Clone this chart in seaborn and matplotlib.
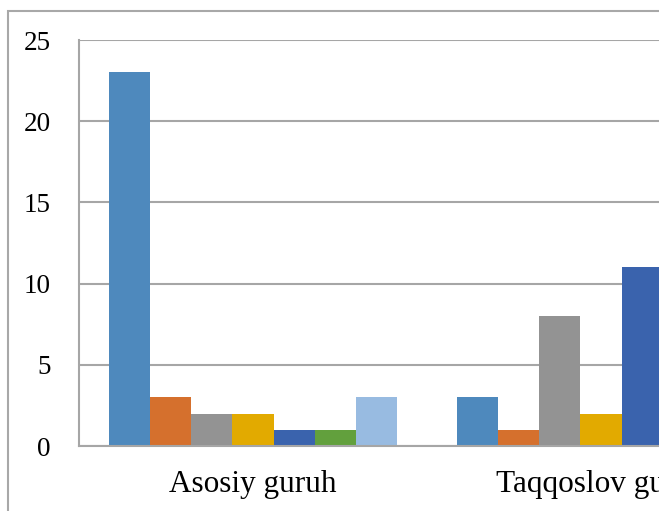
import matplotlib
matplotlib.use("Agg")
import matplotlib.pyplot as plt
from matplotlib.patches import Rectangle
from matplotlib.ticker import FixedLocator
import numpy as np
import pandas as pd
import seaborn as sns

# Groups and the seven response categories
groups = ["Asosiy guruh", "Taqqoslov guruh"]
series = ["1", "2", "3", "4", "5", "6", "7"]
asosiy = [23, 3, 2, 2, 1, 1, 3]
taqqoslov = [3, 1, 8, 2, 11, np.nan, np.nan]
yticks = [0, 5, 10, 15, 20, 25]

colors = ["#4E89BD", "#D5702D", "#939393", "#E2AA00",
          "#3A63AD", "#62A03D", "#98BBE1"]

df = pd.DataFrame({
    "group": [groups[0]] * len(series) + [groups[1]] * len(series),
    "series": series * 2,
    "value": asosiy + taqqoslov,
})

sns.set_theme(style="white")
plt.rcParams["font.family"] = ["Liberation Serif", "DejaVu Serif"]

W, H = 659, 511
fig = plt.figure(figsize=(W / 100, H / 100), dpi=100)
fig.patch.set_facecolor("white")

# chart area frame
fig.patches.append(Rectangle((8 / W, -0.1), 1.2, (H - 11) / H + 0.1,
                             transform=fig.transFigure, fill=False,
                             edgecolor="#A8A8A8", linewidth=1.5, zorder=0))

ax = fig.add_axes([79 / W, 65 / H, 696 / W, 406 / H])
sns.barplot(data=df, x="group", y="value", hue="series", palette=colors,
            width=0.825, saturation=1, linewidth=0, ax=ax, legend=False,
            errorbar=None)

grid_c = "#A6A6A6"
ax.set_xlim(-0.5, 1.5)
ax.set_ylim(0, 25)
ax.set_yticks(yticks)
ax.yaxis.grid(True, color=grid_c, linewidth=1.5)
ax.set_axisbelow(True)
ax.set_xlabel("")
ax.set_ylabel("")

for s in ["top", "right"]:
    ax.spines[s].set_visible(False)
for s in ["left", "bottom"]:
    ax.spines[s].set_color(grid_c)
    ax.spines[s].set_linewidth(1.5)

ax.tick_params(axis="y", which="major", length=9, width=1.5, color=grid_c,
               direction="out", labelsize=19.5, pad=11.5, labelcolor="black")
ax.tick_params(axis="x", which="major", length=0, labelsize=22.5, pad=17,
               labelcolor="black")
ax.xaxis.set_minor_locator(FixedLocator([-0.5, 0.5, 1.5]))
ax.tick_params(axis="x", which="minor", length=9, width=1.5, color=grid_c,
               direction="out")

fig.savefig("out.png", dpi=100)
